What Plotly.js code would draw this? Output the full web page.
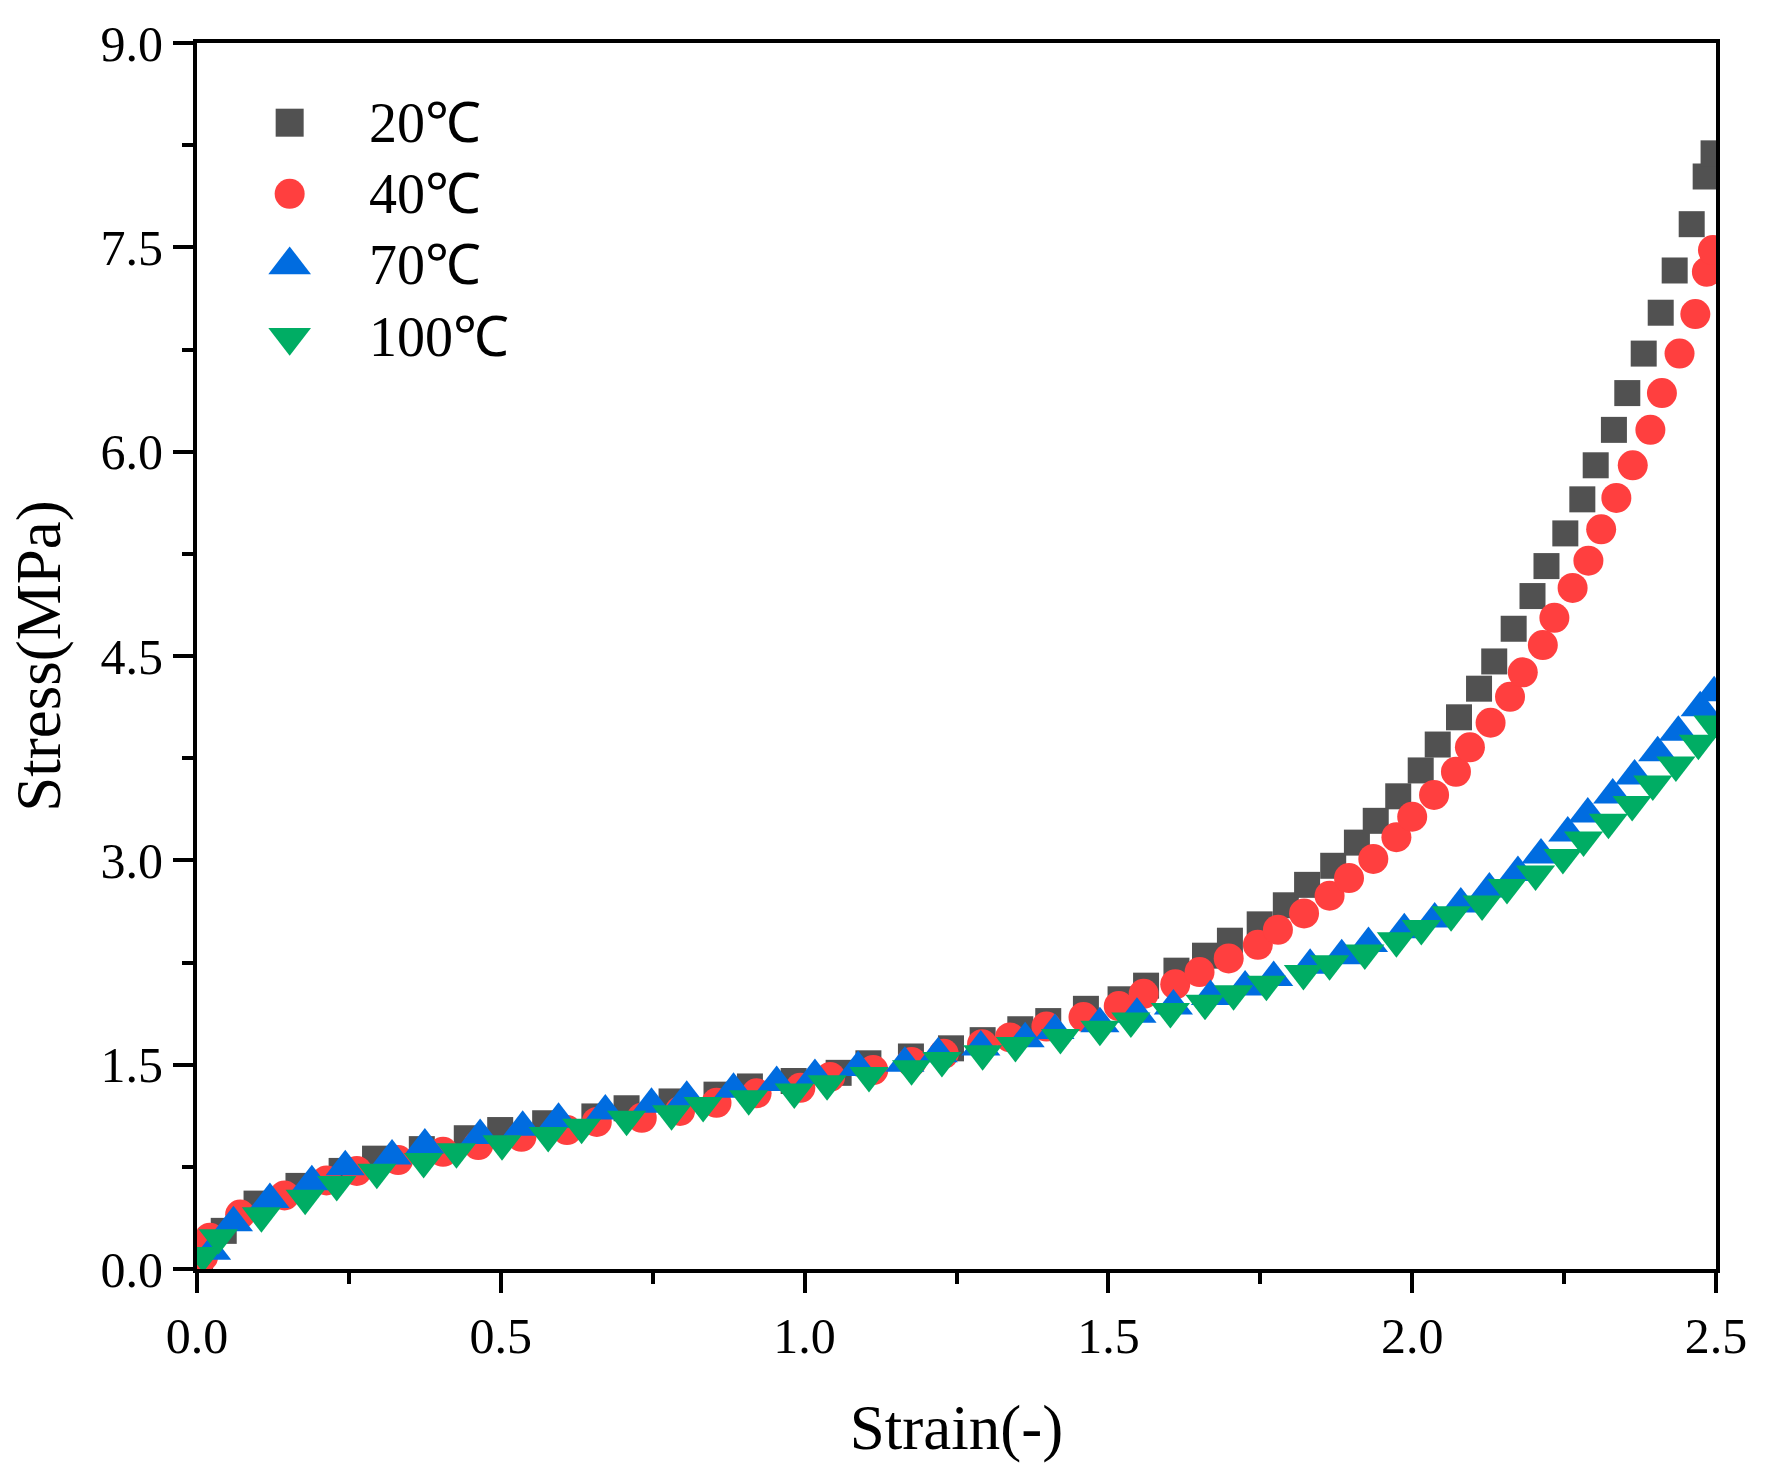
<!DOCTYPE html>
<html>
<head>
<meta charset="utf-8">
<script src="https://cdn.plot.ly/plotly-3.0.1.min.js"></script>
<style>
  html, body { margin: 0; padding: 0; background: #fff; }
  #chart { width: 1765px; height: 1484px; }
</style>
</head>
<body>
<div id="chart"></div>
<script>
// stress-strain curves at four temperatures
const strain20 = [0.005, 0.044, 0.098, 0.167, 0.238, 0.293, 0.370, 0.444, 0.499, 0.573, 0.654, 0.707, 0.781, 0.855, 0.910, 0.982,
    1.056, 1.105, 1.175, 1.241, 1.293, 1.355, 1.401, 1.463, 1.520, 1.562, 1.612, 1.659, 1.700, 1.749, 1.792, 1.827, 1.870, 1.909,
    1.940, 1.977, 2.014, 2.042, 2.077, 2.110, 2.135, 2.167, 2.198, 2.221, 2.252, 2.280, 2.302, 2.332, 2.354, 2.381, 2.409, 2.432,
    2.460, 2.483, 2.496];
const stress20 = [0.08, 0.28, 0.48, 0.61, 0.72, 0.81, 0.88, 0.96, 1.02, 1.07, 1.12, 1.18, 1.23, 1.28, 1.34, 1.38,
    1.44, 1.51, 1.56, 1.62, 1.68, 1.76, 1.82, 1.91, 1.98, 2.08, 2.19, 2.30, 2.41, 2.53, 2.67, 2.82, 2.96, 3.13,
    3.29, 3.47, 3.66, 3.85, 4.05, 4.26, 4.46, 4.70, 4.94, 5.16, 5.40, 5.65, 5.90, 6.16, 6.43, 6.72, 7.02, 7.33,
    7.67, 8.02, 8.19];

const strain40 = [0.010, 0.021, 0.071, 0.144, 0.213, 0.263, 0.331, 0.405, 0.463, 0.534, 0.609, 0.658, 0.732, 0.795, 0.855, 0.921,
    0.993, 1.042, 1.113, 1.176, 1.229, 1.292, 1.338, 1.398, 1.459, 1.517, 1.558, 1.610, 1.650, 1.698, 1.746, 1.779, 1.822,
    1.864, 1.896, 1.936, 1.974, 2.000, 2.036, 2.072, 2.095, 2.129, 2.161, 2.182, 2.215, 2.234, 2.264, 2.290, 2.311, 2.336,
    2.363, 2.392, 2.411, 2.440, 2.466, 2.485, 2.495];
const stress40 = [0.09, 0.23, 0.40, 0.54, 0.65, 0.72, 0.80, 0.86, 0.91, 0.97, 1.02, 1.08, 1.11, 1.16, 1.22, 1.29,
    1.33, 1.41, 1.46, 1.52, 1.58, 1.65, 1.70, 1.78, 1.85, 1.93, 2.02, 2.09, 2.18, 2.28, 2.38, 2.49, 2.61,
    2.74, 2.87, 3.01, 3.17, 3.32, 3.48, 3.65, 3.83, 4.01, 4.20, 4.38, 4.58, 4.78, 5.00, 5.20, 5.43, 5.66,
    5.90, 6.16, 6.43, 6.72, 7.01, 7.32, 7.48];

const strain70 = [0.024, 0.060, 0.120, 0.189, 0.244, 0.321, 0.375, 0.466, 0.536, 0.595, 0.672, 0.748, 0.806, 0.883, 0.954,
    1.017, 1.088, 1.165, 1.220, 1.290, 1.363, 1.412, 1.486, 1.547, 1.607, 1.668, 1.725, 1.772, 1.832, 1.884, 1.928,
    1.987, 2.037, 2.080, 2.127, 2.174, 2.212, 2.256, 2.289, 2.330, 2.366, 2.404, 2.438, 2.474, 2.497];
const stress70 = [0.13, 0.34, 0.51, 0.64, 0.75, 0.83, 0.91, 0.98, 1.04, 1.10, 1.16, 1.21, 1.26, 1.32, 1.37,
    1.42, 1.48, 1.51, 1.58, 1.63, 1.69, 1.75, 1.80, 1.87, 1.93, 2.00, 2.07, 2.14, 2.23, 2.30, 2.39,
    2.49, 2.57, 2.68, 2.79, 2.91, 3.04, 3.20, 3.34, 3.48, 3.62, 3.79, 3.94, 4.12, 4.23];

const strain100 = [0.010, 0.035, 0.106, 0.178, 0.230, 0.296, 0.373, 0.427, 0.502, 0.578, 0.633, 0.707, 0.781, 0.833, 0.908,
    0.983, 1.037, 1.106, 1.176, 1.226, 1.293, 1.347, 1.421, 1.486, 1.537, 1.602, 1.659, 1.706, 1.760, 1.821, 1.864,
    1.922, 1.974, 2.015, 2.064, 2.115, 2.156, 2.203, 2.248, 2.282, 2.323, 2.362, 2.396, 2.434, 2.471, 2.495];
const stress100 = [0.10, 0.23, 0.39, 0.52, 0.62, 0.71, 0.79, 0.86, 0.92, 0.98, 1.04, 1.10, 1.14, 1.20, 1.25,
    1.30, 1.36, 1.42, 1.47, 1.53, 1.58, 1.64, 1.70, 1.76, 1.82, 1.89, 1.95, 2.02, 2.09, 2.17, 2.24,
    2.32, 2.41, 2.50, 2.60, 2.68, 2.80, 2.90, 3.02, 3.15, 3.28, 3.41, 3.56, 3.70, 3.86, 4.00];

const seriesNames = ['20\u2103', '40\u2103', '70\u2103', '100\u2103'];
const xTicks = [0, 0.5, 1.0, 1.5, 2.0, 2.5];
const yTicks = [0, 1.5, 3.0, 4.5, 6.0, 7.5, 9.0];

const colors = ['#515151', '#ff3f3f', '#006ce0', '#00ad64'];
const symbols = ['square', 'circle', 'triangle-up', 'triangle-down'];
// plotly triangles are flatter than Origin's, so they get a bigger size
const sizes = [26, 30, 34, 34];
const legendSizes = [28, 30, 37, 37];

const xs = [strain20, strain40, strain70, strain100];
const ys = [stress20, stress40, stress70, stress100];

const FONT = 'Liberation Serif, Times New Roman, serif';

let traces = xs.map((x, i) => ({
    x: x,
    y: ys[i],
    type: 'scatter',
    mode: 'markers',
    name: seriesNames[i],
    showlegend: false,
    marker: { symbol: symbols[i], size: sizes[i], color: colors[i], opacity: 1, line: { width: 0 } }
}));

// hand-made legend (plotly caps legend symbols at 16px)
const legendX = 0.061;
const legendY = [0.935, 0.877, 0.819, 0.760];
seriesNames.forEach((name, i) => {
    traces.push({
        x: [legendX],
        y: [legendY[i]],
        xaxis: 'x2',
        yaxis: 'y2',
        type: 'scatter',
        mode: 'markers',
        showlegend: false,
        hoverinfo: 'skip',
        marker: { symbol: symbols[i], size: legendSizes[i], color: colors[i], opacity: 1, line: { width: 0 } }
    });
});

const annotations = seriesNames.map((name, i) => ({
    text: name,
    xref: 'paper', yref: 'paper',
    x: 0.112, y: legendY[i],
    xanchor: 'left', yanchor: 'middle',
    showarrow: false,
    font: { family: FONT, size: 56, color: '#000' }
}));

const axisCommon = {
    showgrid: false,
    zeroline: false,
    showline: true,
    mirror: true,
    linecolor: '#000',
    linewidth: 4,
    ticks: 'outside',
    ticklen: 20,
    tickwidth: 4,
    tickcolor: '#000',
    tickformat: '.1f',
    tickfont: { family: FONT, size: 50, color: '#000' }
};

const layout = {
    width: 1765,
    height: 1484,
    margin: { l: 197, r: 49, t: 43, b: 215 },
    paper_bgcolor: '#fff',
    plot_bgcolor: '#fff',
    font: { family: FONT, color: '#000' },
    xaxis: Object.assign({}, axisCommon, {
        range: [0, 2.5],
        tickvals: xTicks,
        minor: { ticks: 'outside', ticklen: 11, tickwidth: 4, tickcolor: '#000', dtick: 0.25, tick0: 0 },
        title: { text: 'Strain(-)', font: { family: FONT, size: 63, color: '#000' }, standoff: 43 }
    }),
    yaxis: Object.assign({}, axisCommon, {
        range: [0, 9],
        tickvals: yTicks,
        minor: { ticks: 'outside', ticklen: 11, tickwidth: 4, tickcolor: '#000', dtick: 0.75, tick0: 0 },
        title: { text: 'Stress(MPa)', font: { family: FONT, size: 63, color: '#000' }, standoff: 20 }
    }),
    xaxis2: { overlaying: 'x', range: [0, 1], visible: false, fixedrange: true },
    yaxis2: { overlaying: 'y', range: [0, 1], visible: false, fixedrange: true },
    annotations: annotations
};

Plotly.newPlot('chart', traces, layout, { displayModeBar: false, staticPlot: true });
</script>
</body>
</html>
